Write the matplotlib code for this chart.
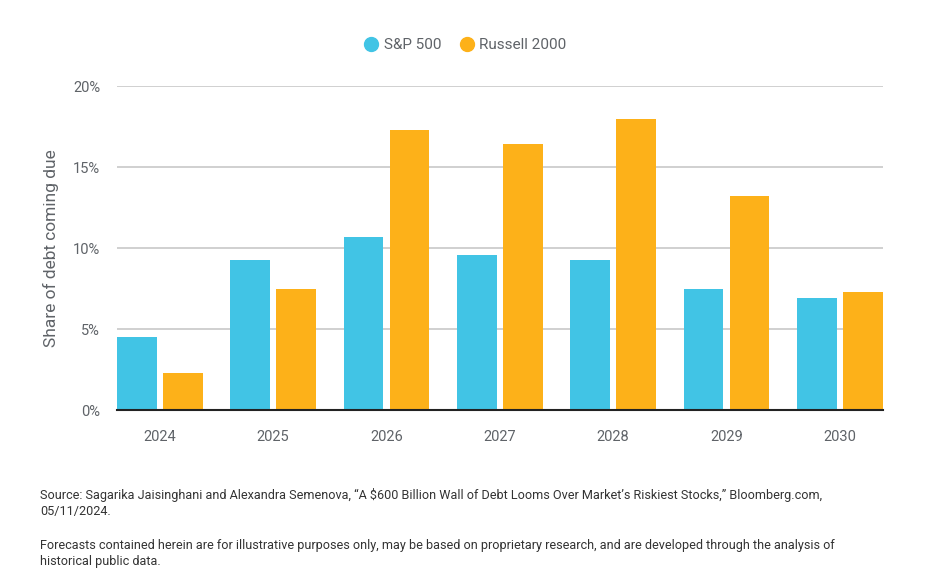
import matplotlib.pyplot as plt
from matplotlib.lines import Line2D
import numpy as np

years = ["2024", "2025", "2026", "2027", "2028", "2029", "2030"]
sp500 = [4.5, 9.3, 10.7, 9.6, 9.3, 7.5, 6.9]
russell = [2.3, 7.5, 17.3, 16.4, 18.0, 13.2, 7.3]
y_ticks = [0, 5, 10, 15, 20]
y_tick_labels = ["0%", "5%", "10%", "15%", "20%"]

blue = "#41C4E5"
orange = "#FDB119"
grey_text = "#5f6368"

plt.rcParams["font.family"] = ["Roboto", "DejaVu Sans"]

fig = plt.figure(figsize=(9.36, 5.86), dpi=100)
ax = fig.add_axes([0.125, 0.300, 0.818, 0.553])

x = np.arange(len(years))
width = 0.35
offset = 0.2025
ax.bar(x - offset, sp500, width, color=blue, zorder=3)
ax.bar(x + offset, russell, width, color=orange, zorder=3)

ax.set_xlim(-offset - width / 2, len(years) - 1 + offset + width / 2)
ax.set_ylim(0, 20)
ax.set_yticks(y_ticks)
ax.set_yticklabels(y_tick_labels)
ax.set_xticks(x)
ax.set_xticklabels(years)

ax.grid(axis="y", color="#c8c8c8", linewidth=1.2, zorder=0)
for side in ["top", "right", "left"]:
    ax.spines[side].set_visible(False)
ax.spines["bottom"].set_color("#222222")
ax.spines["bottom"].set_linewidth(1.5)
ax.spines["bottom"].set_zorder(4)
ax.tick_params(axis="both", length=0, labelsize=10.5, colors=grey_text)
ax.tick_params(axis="y", pad=12)
ax.tick_params(axis="x", pad=14)

ax.set_ylabel("Share of debt coming due", fontsize=12.5, color=grey_text, labelpad=10)

handles = [
    Line2D([0], [0], marker="o", linestyle="", markersize=10, color=blue),
    Line2D([0], [0], marker="o", linestyle="", markersize=10, color=orange),
]
fig.legend(handles, ["S&P 500", "Russell 2000"], loc="center", bbox_to_anchor=(0.497, 0.923),
           ncol=2, frameon=False, fontsize=11, handlelength=1.0, handletextpad=0.3,
           columnspacing=1.2, labelcolor=grey_text)

foot_color = "#333333"
fig.text(0.043, 0.168,
         "Source: Sagarika Jaisinghani and Alexandra Semenova, \u201cA $600 Billion Wall of Debt Looms Over Market\u2019s Riskiest Stocks,\u201d Bloomberg.com,\n05/11/2024.",
         fontsize=9.1, color=foot_color, va="top", linespacing=1.3)
fig.text(0.043, 0.080,
         "Forecasts contained herein are for illustrative purposes only, may be based on proprietary research, and are developed through the analysis of\nhistorical public data.",
         fontsize=9.1, color=foot_color, va="top", linespacing=1.3)

fig.savefig("out.png", dpi=100)
